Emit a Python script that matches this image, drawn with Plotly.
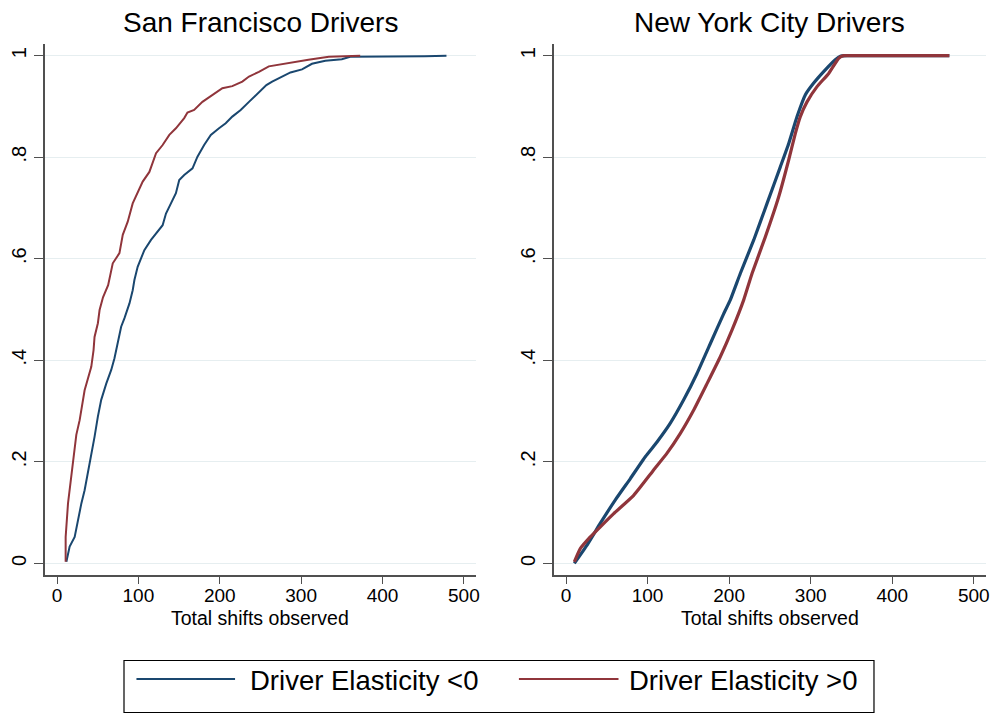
import plotly.graph_objects as go

# ---------------- data ----------------
sf_neg_x = [11.5, 15.5, 21.7, 25.7, 29.9, 33.9, 38, 42.1, 46.1, 50.2, 54.3, 60.5, 66.6, 70.6, 74.7,
            78.8, 82.9, 89, 93, 95.1, 99.1, 107.3, 115.5, 123.6, 129.8, 133.9, 140, 146.1, 150.2,
            156.3, 166.5, 172.6, 180.8, 189, 199.1, 207.3, 215.4, 225.7, 235.9, 248.1, 257.3,
            264.4, 276.6, 286.9, 301.1, 313.3, 329.7, 350, 360.3, 411, 452, 478.6]
sf_neg_y = [0.003, 0.033, 0.052, 0.085, 0.118, 0.144, 0.177, 0.217, 0.249, 0.289, 0.322, 0.354,
            0.381, 0.404, 0.433, 0.466, 0.483, 0.512, 0.538, 0.558, 0.584, 0.617, 0.637, 0.653,
            0.666, 0.689, 0.709, 0.729, 0.755, 0.765, 0.778, 0.801, 0.824, 0.844, 0.857, 0.867,
            0.880, 0.893, 0.909, 0.927, 0.942, 0.949, 0.959, 0.967, 0.973, 0.984, 0.990, 0.993,
            0.998, 0.998, 0.999, 1.0]

sf_pos_x = [10.6, 10.6, 13.5, 17.6, 21.7, 23.7, 27.8, 30.6, 33.9, 38, 42.1, 44.9, 46.1, 50.2, 52.3,
            56.5, 62.8, 68.5, 76.7, 80.8, 86.9, 93, 99.1, 105.3, 113.5, 121.7, 129.8, 138, 146.1,
            156.3, 160.3, 168.5, 178.7, 190.9, 203.2, 215.4, 227.7, 235.9, 248.1, 260.3, 280.8,
            309, 334, 372.6]
sf_pos_y = [0.003, 0.052, 0.118, 0.170, 0.217, 0.253, 0.282, 0.312, 0.341, 0.364, 0.387, 0.420,
            0.446, 0.473, 0.499, 0.524, 0.548, 0.591, 0.611, 0.647, 0.673, 0.709, 0.729, 0.752,
            0.771, 0.808, 0.824, 0.844, 0.857, 0.877, 0.888, 0.893, 0.909, 0.923, 0.936, 0.940,
            0.949, 0.959, 0.968, 0.979, 0.985, 0.992, 0.998, 1.0]

ny_neg_x = [10.2, 25.8, 42.1, 60.5, 78.9, 97.2, 111.6, 127.9, 144.3, 160.6, 177, 193.4, 201.5,
            213.7, 230.2, 246.5, 262.8, 273.1, 283.3, 293.5, 303.7, 317.9, 330.2, 336.4, 345,
            400, 470]
ny_neg_y = [0.0, 0.036, 0.079, 0.125, 0.167, 0.210, 0.239, 0.276, 0.322, 0.374, 0.433, 0.492,
            0.519, 0.571, 0.637, 0.709, 0.781, 0.827, 0.880, 0.923, 0.946, 0.972, 0.992, 0.999,
            1.0, 1.0, 1.0]

ny_pos_x = [10.2, 17.5, 29.8, 42.1, 58.5, 83, 107.5, 123.9, 140.2, 156.6, 172.9, 189.2, 203.6,
            217.9, 228.1, 244.4, 260.8, 273.1, 281.2, 287.3, 295.5, 307.8, 322.1, 334.4, 340.5,
            348, 400, 470]
ny_pos_y = [0.003, 0.029, 0.052, 0.072, 0.098, 0.134, 0.184, 0.217, 0.256, 0.302, 0.354, 0.407,
            0.460, 0.519, 0.571, 0.643, 0.722, 0.795, 0.847, 0.880, 0.909, 0.939, 0.965, 0.995,
            1.0, 1.0, 1.0, 1.0]

panel_titles = ["San Francisco Drivers", "New York City Drivers"]
x_title = "Total shifts observed"
legend_labels = ["Driver Elasticity <0", "Driver Elasticity >0"]
y_tickvals = [0, 0.2, 0.4, 0.6, 0.8, 1]
y_ticktext = ["0", ".2", ".4", ".6", ".8", "1"]
x_tickvals = [0, 100, 200, 300, 400, 500]

# ---------------- style ----------------
W, H = 998, 713
BLUE = "#1a476f"
RED = "#90353b"
AXC = "#505050"
GRID = "#e6eef0"
FONT = "Liberation Sans, Arial, sans-serif"


def px_x(p):
    return p / W


def px_y(p):
    return 1 - p / H


fig = go.Figure()

fig.add_trace(go.Scatter(x=sf_neg_x, y=sf_neg_y, mode="lines", line=dict(color=BLUE, width=2),
                         xaxis="x", yaxis="y", showlegend=False, name=legend_labels[0]))
fig.add_trace(go.Scatter(x=sf_pos_x, y=sf_pos_y, mode="lines", line=dict(color=RED, width=2),
                         xaxis="x", yaxis="y", showlegend=False, name=legend_labels[1]))
fig.add_trace(go.Scatter(x=ny_neg_x, y=ny_neg_y, mode="lines",
                         line=dict(color=BLUE, width=3.2, shape="spline", smoothing=0.4),
                         xaxis="x2", yaxis="y2", showlegend=False, name=legend_labels[0]))
fig.add_trace(go.Scatter(x=ny_pos_x, y=ny_pos_y, mode="lines",
                         line=dict(color=RED, width=3.2, shape="spline", smoothing=0.4),
                         xaxis="x2", yaxis="y2", showlegend=False, name=legend_labels[1]))

ydom = [px_y(575), px_y(44)]
xdom1 = [px_x(45), px_x(478)]
xdom2 = [px_x(556), px_x(990)]

xcommon = dict(range=[-15, 515], tickvals=x_tickvals, showline=True, linecolor=AXC, linewidth=1.5,
               ticks="outside", ticklen=7, tickwidth=1.3, tickcolor=AXC, showgrid=False,
               zeroline=False, ticklabelstandoff=-5,
               tickfont=dict(size=19, color="black", family=FONT))
ycommon = dict(range=[-0.023, 1.023], tickvals=y_tickvals, ticktext=y_ticktext, showline=True,
               linecolor=AXC, linewidth=1.5, ticks="outside", ticklen=9, tickwidth=1.3,
               tickcolor=AXC, showgrid=True, gridcolor=GRID, gridwidth=1.3, zeroline=False,
               tickangle=-90, tickfont=dict(size=20, color="black", family=FONT))

fig.update_layout(
    width=W, height=H, margin=dict(l=0, r=0, t=0, b=0),
    paper_bgcolor="white", plot_bgcolor="white",
    font=dict(family=FONT, color="black"),
    xaxis=dict(domain=xdom1, anchor="y", **xcommon),
    yaxis=dict(domain=ydom, anchor="x", **ycommon),
    xaxis2=dict(domain=xdom2, anchor="y2", **xcommon),
    yaxis2=dict(domain=ydom, anchor="x2", **ycommon),
    showlegend=False,
)

annotations = []
for dom, t in zip([xdom1, xdom2], panel_titles):
    cx = (dom[0] + dom[1]) / 2
    annotations.append(dict(x=cx, y=px_y(23), xref="paper", yref="paper", text=t, showarrow=False,
                            xanchor="center", yanchor="middle",
                            font=dict(size=28, family=FONT, color="black")))
    annotations.append(dict(x=cx, y=px_y(618), xref="paper", yref="paper", text=x_title,
                            showarrow=False, xanchor="center", yanchor="middle",
                            font=dict(size=19.5, family=FONT, color="black")))

# manual legend (Stata style)
shapes = [dict(type="rect", xref="paper", yref="paper", x0=px_x(124.5), x1=px_x(877.5),
               y0=px_y(712.5), y1=px_y(660.5), line=dict(color="black", width=1.2),
               fillcolor="white")]
for (x0, x1), col in zip([(137, 236), (521, 621)], [BLUE, RED]):
    shapes.append(dict(type="line", xref="paper", yref="paper", x0=px_x(x0), x1=px_x(x1),
                       y0=px_y(679), y1=px_y(679), line=dict(color=col, width=2.2)))
for xt, lab in zip([249, 630], legend_labels):
    annotations.append(dict(x=px_x(xt), y=px_y(680), xref="paper", yref="paper", text=lab,
                            showarrow=False, xanchor="left", yanchor="middle",
                            font=dict(size=27.5, family=FONT, color="black")))

fig.update_layout(annotations=annotations, shapes=shapes)

fig.write_html("out.html")
